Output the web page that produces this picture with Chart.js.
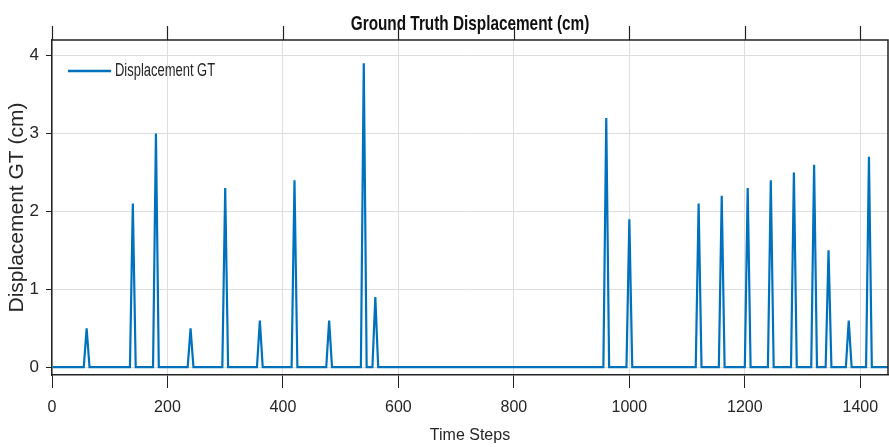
<!DOCTYPE html>
<html>
<head>
<meta charset="utf-8">
<script src="https://cdn.jsdelivr.net/npm/chart.js@4"></script>
<style>
  html, body { margin: 0; padding: 0; background: #fff; }
  #wrap { width: 889px; height: 447px; }
</style>
</head>
<body>
<div id="wrap"><canvas id="gtChart"></canvas></div>
<script>
// ground truth displacement trace (time step, cm)
const timeSteps = [1, 55, 60, 65, 135, 140, 145, 175, 180, 185, 235, 240, 245, 295, 300, 305,
  355, 360, 365, 415, 420, 425, 475, 480, 485, 535, 540, 545, 555, 560, 565,
  955, 960, 965, 995, 1000, 1005, 1115, 1120, 1125, 1155, 1160, 1165, 1200, 1205, 1210,
  1240, 1245, 1250, 1280, 1285, 1290, 1315, 1320, 1325, 1340, 1345, 1350,
  1375, 1380, 1385, 1410, 1415, 1420, 1448];
const displacement = [0, 0, 0.5, 0, 0, 2.1, 0, 0, 3.0, 0, 0, 0.5, 0, 0, 2.3, 0,
  0, 0.6, 0, 0, 2.4, 0, 0, 0.6, 0, 0, 3.9, 0, 0, 0.9, 0,
  0, 3.2, 0, 0, 1.9, 0, 0, 2.1, 0, 0, 2.2, 0, 0, 2.3, 0,
  0, 2.4, 0, 0, 2.5, 0, 0, 2.6, 0, 0, 1.5, 0,
  0, 0.6, 0, 0, 2.7, 0, 0];

const xTicks = [0, 200, 400, 600, 800, 1000, 1200, 1400];
const yTicks = [0, 1, 2, 3, 4];

const FONT = "'Liberation Sans', Arial, sans-serif";
const LINE_BLUE = '#0072BD';
const TEXT = '#262626';
const GRID = '#dedede';

// draw text squeezed horizontally (the source image is narrow-looking)
function squeezedText(ctx, text, x, y, sx) {
  ctx.save();
  ctx.translate(x, y);
  ctx.scale(sx, 1);
  ctx.fillText(text, 0, 0);
  ctx.restore();
}

// MATLAB-like box: top/right border, top ticks, title, legend inside axes
const boxPlugin = {
  id: 'boxPlugin',
  afterDraw(chart) {
    const { ctx, chartArea: a, scales } = chart;
    ctx.save();

    // title
    ctx.fillStyle = '#111';
    ctx.font = "bold 21px " + FONT;
    ctx.textAlign = 'center';
    ctx.textBaseline = 'middle';
    squeezedText(ctx, 'Ground Truth Displacement (cm)', (a.left + a.right) / 2, 24, 0.73);

    // top and right border
    ctx.strokeStyle = '#222';
    ctx.lineWidth = 1.5;
    ctx.beginPath();
    ctx.moveTo(a.left, a.top);
    ctx.lineTo(a.right, a.top);
    ctx.lineTo(a.right, a.bottom);
    ctx.stroke();

    // tick marks on top edge, pointing up
    ctx.lineWidth = 1.2;
    scales.x.ticks.forEach(t => {
      const px = Math.round(scales.x.getPixelForValue(t.value)) + 0.5;
      ctx.beginPath();
      ctx.moveTo(px, a.top);
      ctx.lineTo(px, a.top - 14);
      ctx.stroke();
    });

    // legend
    const ds = chart.data.datasets[0];
    const ly = a.top + 31;
    ctx.strokeStyle = LINE_BLUE;
    ctx.lineWidth = 2.5;
    ctx.beginPath();
    ctx.moveTo(a.left + 16, ly);
    ctx.lineTo(a.left + 59, ly);
    ctx.stroke();
    ctx.fillStyle = TEXT;
    ctx.font = "18px " + FONT;
    ctx.textAlign = 'left';
    squeezedText(ctx, ds.label, a.left + 63, ly, 0.72);

    ctx.restore();
  }
};

new Chart(document.getElementById('gtChart'), {
  type: 'line',
  data: {
    datasets: [{
      label: 'Displacement GT',
      data: timeSteps.map((t, i) => ({ x: t, y: displacement[i] })),
      borderColor: LINE_BLUE,
      borderWidth: 2.2,
      pointRadius: 0,
      tension: 0,
      fill: false
    }]
  },
  options: {
    responsive: true,
    maintainAspectRatio: false,
    animation: false,
    layout: {
      padding: { top: 40, right: 1, left: 0, bottom: 0 }
    },
    plugins: {
      legend: { display: false },
      tooltip: { enabled: false },
      title: { display: false }
    },
    scales: {
      x: {
        type: 'linear',
        min: 0,
        max: 1448,
        afterBuildTicks: s => { s.ticks = xTicks.map(v => ({ value: v })); },
        afterFit: s => { s.height = 72; },
        grid: {
          color: GRID,
          tickColor: '#222',
          tickLength: 13,
          lineWidth: 1
        },
        border: { color: '#222', width: 1.5 },
        ticks: {
          color: TEXT,
          padding: 10,
          maxRotation: 0,
          callback: v => String(v),
          font: { family: FONT, size: 16 }
        },
        title: {
          display: true,
          text: 'Time Steps',
          color: TEXT,
          padding: { top: 0, bottom: 2 },
          font: { family: FONT, size: 16 }
        }
      },
      y: {
        min: -0.1,
        max: 4.2,
        afterBuildTicks: s => { s.ticks = yTicks.map(v => ({ value: v })); },
        afterFit: s => { s.width = 52; },
        grid: {
          color: GRID,
          tickColor: '#222',
          tickLength: 6,
          lineWidth: 1
        },
        border: { color: '#222', width: 1.5 },
        ticks: {
          color: TEXT,
          padding: 7,
          callback: v => String(v),
          font: { family: FONT, size: 17 }
        },
        title: {
          display: true,
          text: 'Displacement GT (cm)',
          color: TEXT,
          padding: { top: 5, bottom: 0 },
          font: { family: FONT, size: 21 }
        }
      }
    }
  },
  plugins: [boxPlugin]
});
</script>
</body>
</html>
